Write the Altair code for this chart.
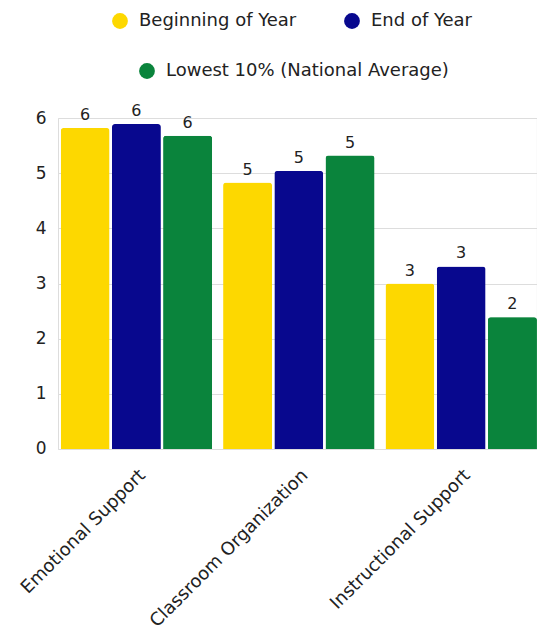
import altair as alt
import pandas as pd

categories = ["Emotional Support", "Classroom Organization", "Instructional Support"]
series = ["Beginning of Year", "End of Year", "Lowest 10% (National Average)"]
beginning = [5.82, 4.83, 3.00]
end_year = [5.89, 5.04, 3.31]
lowest = [5.68, 5.32, 2.39]
colors = ["#FDD800", "#08088E", "#0A843C"]

rows = []
for s, vals in zip(series, [beginning, end_year, lowest]):
    for c, v in zip(categories, vals):
        rows.append({"category": c, "series": s, "value": v})
df = pd.DataFrame(rows)

FONT = "DejaVu Sans"

x_enc = alt.X("category:N", sort=categories,
              scale=alt.Scale(domain=categories, paddingInner=0.0675, paddingOuter=0.0083, align=1),
              axis=alt.Axis(title=None, labelAngle=-45, labelFontSize=18, labelColor="#222",
                            labelFont=FONT, domain=False, ticks=False, labelPadding=17,
                            labelLimit=400))
xo_enc = alt.XOffset("series:N", sort=series,
                     scale=alt.Scale(domain=series, paddingInner=0.045, paddingOuter=0))
y_enc = alt.Y("value:Q", scale=alt.Scale(domain=[0, 6]),
              axis=alt.Axis(title=None, values=[0, 1, 2, 3, 4, 5, 6], domain=False, ticks=False,
                            labelFontSize=17, labelColor="#222", labelFont=FONT, labelPadding=12,
                            gridColor="#dddddd"))

legend_common = dict(orient="none", direction="horizontal", title=None, symbolType="circle",
                     symbolSize=250, symbolStrokeWidth=0, labelFontSize=18, labelFont=FONT,
                     labelColor="#222", labelOffset=10, labelLimit=400)

base = alt.Chart(df)

bars = base.mark_bar(cornerRadiusTopLeft=3, cornerRadiusTopRight=3).encode(
    x=x_enc, xOffset=xo_enc, y=y_enc,
    color=alt.Color("series:N",
                    scale=alt.Scale(domain=series, range=colors),
                    legend=alt.Legend(values=series[:2], legendX=53, legendY=-106,
                                      columnPadding=46, **legend_common)),
)

green = base.transform_filter(alt.datum.series == series[2]).mark_bar(
    cornerRadiusTopLeft=3, cornerRadiusTopRight=3).encode(
    x=x_enc, xOffset=xo_enc, y=y_enc,
    color=alt.Color("series:N",
                    scale=alt.Scale(domain=[series[2]], range=[colors[2]]),
                    legend=alt.Legend(legendX=80, legendY=-56, **legend_common)),
)

labels = base.mark_text(baseline="bottom", dy=-5, fontSize=16, font=FONT, color="#222").encode(
    x=x_enc, xOffset=xo_enc, y=y_enc,
    text=alt.Text("value:Q", format=".0f"),
)

chart = alt.layer(bars, green, labels).resolve_scale(color="independent").properties(
    width=478.9, height=331,
    autosize=alt.AutoSizeParams(type="none"),
    padding={"left": 58, "top": 118, "right": 0, "bottom": 182},
).configure_view(stroke=None).configure(background="white")

chart.save("out.html", embed_options={"renderer": "svg", "actions": False})
